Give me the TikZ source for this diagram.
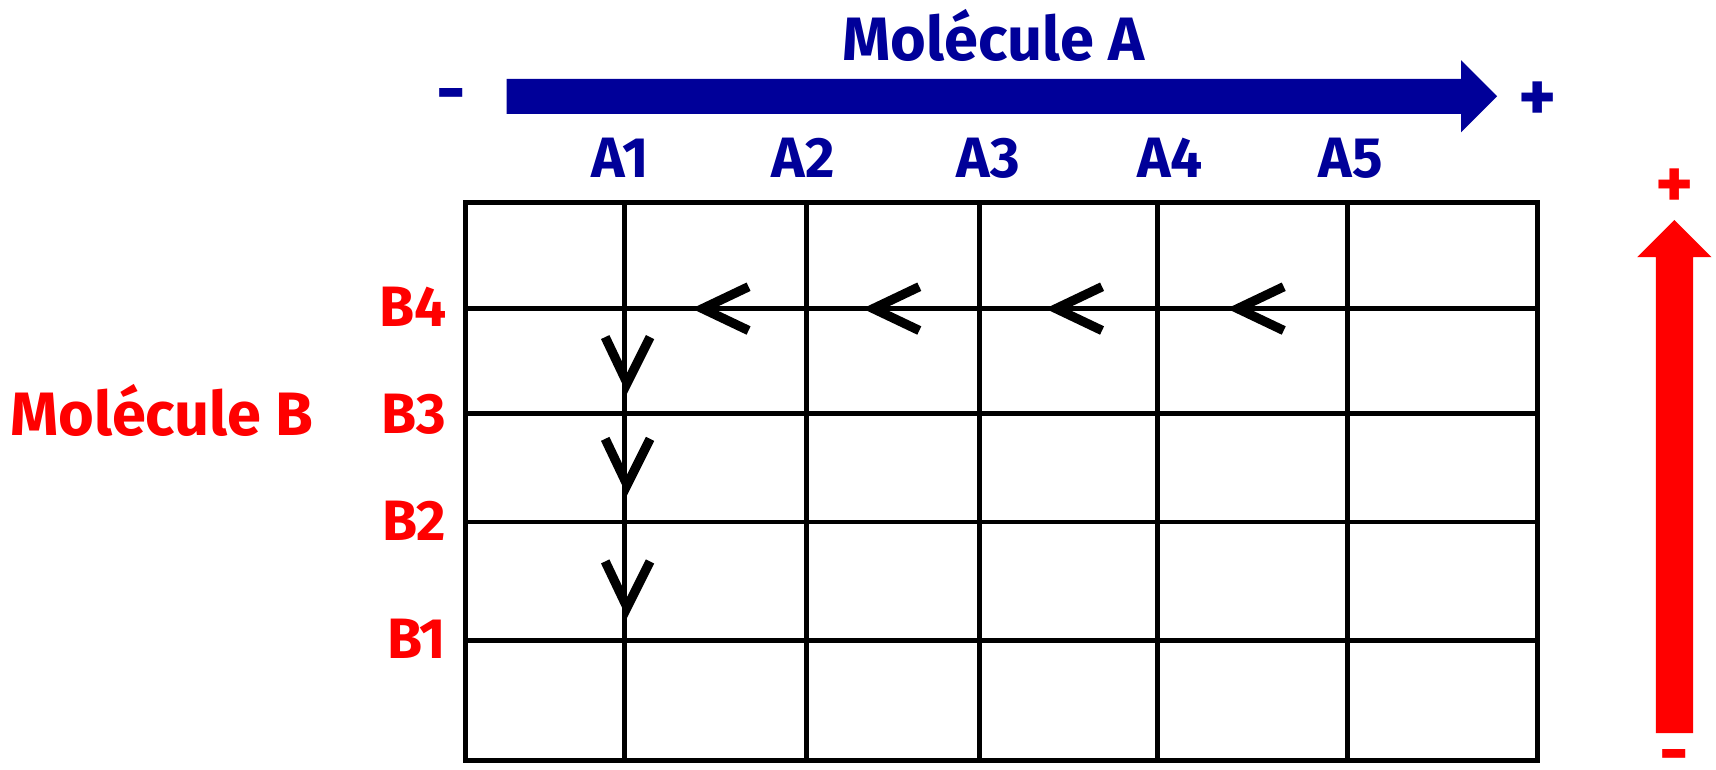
\documentclass[tikz,border=0pt]{standalone}
\usepackage{fontspec}
\setmainfont{Fira Sans}
\definecolor{molA}{HTML}{000099}
\definecolor{molB}{HTML}{FF0000}
\begin{document}
\begin{tikzpicture}[x=1pt,y=-1pt,
  title/.style={font=\bfseries\fontsize{56}{56}\selectfont, inner sep=0pt, anchor=base},
  lbl/.style={font=\bfseries\fontsize{52}{52}\selectfont, inner sep=0pt, anchor=base},
  sign/.style={font=\bfseries\fontsize{66}{66}\selectfont, inner sep=0pt},
  gridline/.style={line width=4.5pt},
  chev/.style={line width=8.5pt, line join=miter, miter limit=10}]
\useasboundingbox (0,0) rectangle (1568,703);

% grid
\foreach \x in {571,737,895,1058,1231}
  \draw[gridline] (\x,185) -- (\x,695);
\foreach \y in {282,378,477,585}
  \draw[gridline] (425,\y) -- (1405,\y);
\draw[gridline] (425,185) rectangle (1405,695);

% blue arrow (Molecule A)
\fill[molA] (463,72) -- (1335,72) -- (1335,55) -- (1368,88) -- (1335,121) -- (1335,104) -- (463,104) -- cycle;
\node[title, text=molA] (molA) at (908,55) {Molécule A};
\node[sign, text=molA] (minusA) at (412,93) {-};
\node[sign, text=molA] (plusA) at (1405,93) {+};
\foreach \n/\x in {1/567,2/734,3/903,4/1069,5/1234}
  \node[lbl, text=molA] (A\n) at (\x,162) {A\n};

% red arrow (Molecule B)
\fill[molB] (1513,670) -- (1513,235) -- (1496,235) -- (1530,201) -- (1564,235) -- (1547,235) -- (1547,670) -- cycle;
\node[sign, text=molB] (plusB) at (1530,172) {+};
\node[sign, text=molB] (minusB) at (1530,697) {-};
\node[title, text=molB] (molB) at (148,398) {Molécule B};
\foreach \n/\y in {4/298,3/396,2/494,1/602}
  \node[lbl, text=molB, anchor=base east] (B\n) at (408,\y) {B\n};

% chevrons along B4
\foreach \c in {662,818,985,1151}
  \draw[chev] (\c+22,262) -- (\c-20,282) -- (\c+22,302);
% chevrons along A1
\foreach \t in {350,443,555}
  \draw[chev] (553,\t-42) -- (573,\t) -- (594,\t-42);
\end{tikzpicture}
\end{document}
